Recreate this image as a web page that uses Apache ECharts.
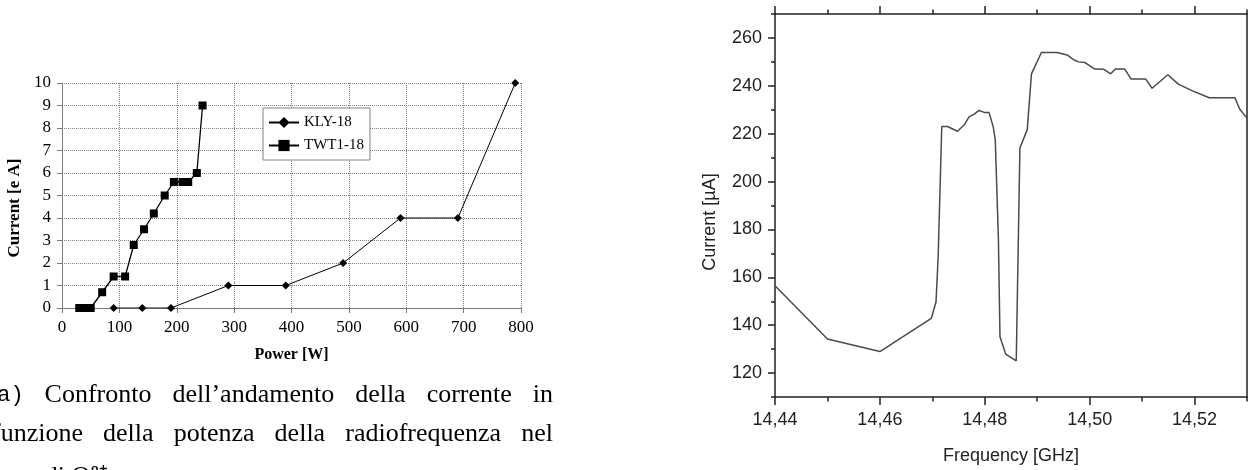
<!DOCTYPE html>
<html>
<head>
<meta charset="utf-8">
<title>Corrente in funzione della potenza e della frequenza</title>
<script src="https://cdn.jsdelivr.net/npm/echarts@6/dist/echarts.min.js"></script>
<style>
  html, body { margin: 0; padding: 0; background: #fff; }
  #chart { width: 1250px; height: 470px; }
</style>
</head>
<body>
<div id="chart"></div>
<script>
// left panel: current vs RF power
const klyPower = [90, 140, 190, 290, 390, 490, 590, 690, 790]
const klyCurrent = [0, 0, 0, 1, 1, 2, 4, 4, 10]
const twtPower = [30, 34, 38, 42, 46, 50, 70, 90, 110, 125, 143, 160, 179, 195, 210, 220, 235, 245]
const twtCurrent = [0, 0, 0, 0, 0, 0, 0.7, 1.4, 1.4, 2.8, 3.5, 4.2, 5.0, 5.6, 5.6, 5.6, 6.0, 9.0]

// right panel: current vs frequency
const freqGHz = [14.4400, 14.4500, 14.4600, 14.4698, 14.4707, 14.4711, 14.4718, 14.4729, 14.4748, 14.4761,
  14.4770, 14.4780, 14.4789, 14.4799, 14.4808, 14.4816, 14.4820, 14.4826, 14.4829, 14.4840,
  14.4860, 14.4867, 14.4881, 14.4889, 14.4908, 14.4938, 14.4957, 14.4970, 14.4979, 14.4991,
  14.5010, 14.5027, 14.5040, 14.5049, 14.5067, 14.5079, 14.5107, 14.5119, 14.5149, 14.5169,
  14.5195, 14.5228, 14.5277, 14.5286, 14.5300]
const currentUA = [156.5, 134.2, 129.0, 142.8, 149.7, 168, 223.0, 223.0, 221.0, 223.7,
  227.0, 228.2, 229.7, 228.9, 228.9, 223.0, 217.5, 176, 135.2, 127.9,
  125.1, 214, 221.7, 245, 253.9, 253.9, 252.9, 250.8, 250.0, 249.7,
  247.0, 246.9, 245.0, 247.0, 247.0, 242.8, 242.8, 239.0, 244.6, 240.7,
  238.0, 235.0, 235.0, 230.3, 226.5]

const freqMajorTicks = [14.44, 14.46, 14.48, 14.50, 14.52]
const freqMinorTicks = [14.45, 14.47, 14.49, 14.51, 14.53]
const currMajorTicks = [120, 140, 160, 180, 200, 220, 240, 260]
const currMinorTicks = [110, 130, 150, 170, 190, 210, 230, 250, 270]

const captionLine1 = ['(a)', 'Confronto', 'dell’andamento', 'della', 'corrente', 'in']
const captionLine2 = ['funzione', 'della', 'potenza', 'della', 'radiofrequenza', 'nel']
const captionLine3 = 'caso di O⁸⁺'

const serif = 'Liberation Serif'
const sans = 'Liberation Sans'
const frame = '#222'

// spread words over a line like LaTeX justified text
const measureCtx = document.createElement('canvas').getContext('2d')
function justify(words, x0, x1, y) {
  const fonts = words.map((w, i) => (i === 0 && w === '(a)') ? ['Liberation Mono', 22] : [serif, 26])
  const widths = words.map((w, i) => {
    measureCtx.font = fonts[i][1] + 'px "' + fonts[i][0] + '"'
    return measureCtx.measureText(w).width
  })
  const gap = (x1 - x0 - widths.reduce((a, b) => a + b, 0)) / (words.length - 1)
  let x = x0
  return words.map((w, i) => {
    const el = {
      type: 'text', x, y,
      style: { text: w, fontFamily: fonts[i][0], fontSize: fonts[i][1], fill: '#000', verticalAlign: 'middle' }
    }
    x += widths[i] + gap
    return el
  })
}

const chart = echarts.init(document.getElementById('chart'))

const leftAxisCommon = {
  gridIndex: 0,
  type: 'value',
  axisLine: { lineStyle: { color: '#7a7a7a', width: 1 } },
  axisTick: { length: 5, lineStyle: { color: '#7a7a7a' } },
  splitLine: { lineStyle: { color: '#7f7f7f', type: 'dotted', width: 1 } },
  axisLabel: { color: '#000', fontFamily: serif, fontSize: 17, margin: 11 }
}

const tickOnly = (extra) => Object.assign({
  gridIndex: 1,
  type: 'value',
  axisLine: { show: false },
  axisLabel: { show: false },
  splitLine: { show: false }
}, extra)

chart.setOption({
  animation: false,
  backgroundColor: '#fff',
  grid: [
    { left: 62, right: 729, top: 83, bottom: 162 },
    { left: 775, right: 3, top: 14, bottom: 72 }
  ],
  legend: {
    left: 263, top: 108, orient: 'vertical',
    padding: [7, 6, 7, 5],
    itemGap: 8, itemWidth: 30, itemHeight: 14,
    borderColor: '#808080', borderWidth: 1, backgroundColor: '#fff',
    textStyle: { fontFamily: serif, fontSize: 15, color: '#000' },
    data: ['KLY-18', 'TWT1-18']
  },
  xAxis: [
    Object.assign({}, leftAxisCommon, {
      min: 0, max: 800, interval: 100,
      name: 'Power [W]', nameLocation: 'middle', nameGap: 39,
      nameTextStyle: { fontFamily: serif, fontSize: 16, fontWeight: 'bold', color: '#000' }
    }),
    {
      gridIndex: 1, type: 'value', min: 14.44, max: 14.53, position: 'bottom',
      axisLine: { lineStyle: { color: frame, width: 1.5 } },
      axisTick: { customValues: freqMajorTicks, length: 8, lineStyle: { color: frame, width: 1.5 } },
      axisLabel: {
        customValues: freqMajorTicks, margin: 14, color: '#222', fontFamily: sans, fontSize: 18,
        formatter: (v) => v.toFixed(2).replace('.', ',')
      },
      splitLine: { show: false },
      name: 'Frequency [GHz]', nameLocation: 'middle', nameGap: 50,
      nameTextStyle: { fontFamily: sans, fontSize: 18, color: '#222' }
    },
    tickOnly({ min: 14.44, max: 14.53, position: 'bottom',
      axisTick: { customValues: freqMinorTicks, length: 4.5, lineStyle: { color: frame, width: 1.5 } } }),
    tickOnly({ min: 14.44, max: 14.53, position: 'top',
      axisLine: { show: true, lineStyle: { color: frame, width: 1.5 } },
      axisTick: { customValues: freqMajorTicks, length: 8, lineStyle: { color: frame, width: 1.5 } } }),
    tickOnly({ min: 14.44, max: 14.53, position: 'top',
      axisTick: { customValues: freqMinorTicks, length: 4.5, lineStyle: { color: frame, width: 1.5 } } })
  ],
  yAxis: [
    Object.assign({}, leftAxisCommon, {
      min: 0, max: 10, interval: 1
    }),
    {
      gridIndex: 1, type: 'value', min: 110, max: 270, position: 'left',
      axisLine: { lineStyle: { color: frame, width: 1.5 } },
      axisTick: { customValues: currMajorTicks, length: 7, lineStyle: { color: frame, width: 1.5 } },
      axisLabel: { customValues: currMajorTicks, margin: 13, color: '#222', fontFamily: sans, fontSize: 18 },
      splitLine: { show: false }
    },
    tickOnly({ min: 110, max: 270, position: 'left',
      axisTick: { customValues: currMinorTicks, length: 4, lineStyle: { color: frame, width: 1.5 } } }),
    tickOnly({ min: 110, max: 270, position: 'right',
      axisLine: { show: true, lineStyle: { color: frame, width: 1.5 } },
      axisTick: { show: false } })
  ],
  series: [
    {
      name: 'KLY-18', type: 'line', xAxisIndex: 0, yAxisIndex: 0,
      data: klyPower.map((p, i) => [p, klyCurrent[i]]),
      symbol: 'diamond', symbolSize: 8,
      itemStyle: { color: '#000' },
      lineStyle: { color: '#000', width: 1 }
    },
    {
      name: 'TWT1-18', type: 'line', xAxisIndex: 0, yAxisIndex: 0,
      data: twtPower.map((p, i) => [p, twtCurrent[i]]),
      symbol: 'rect', symbolSize: 8,
      itemStyle: { color: '#000' },
      lineStyle: { color: '#000', width: 1.3 }
    },
    {
      name: 'Current', type: 'line', xAxisIndex: 1, yAxisIndex: 1,
      data: freqGHz.map((f, i) => [f, currentUA[i]]),
      showSymbol: false,
      lineStyle: { color: '#4a4a4a', width: 1.5 }
    }
  ],
  graphic: [
    {
      type: 'text', x: 15, y: 208, rotation: Math.PI / 2,
      style: { text: 'Current [e A]', fontFamily: serif, fontSize: 17, fontWeight: 'bold', fill: '#000', align: 'center', verticalAlign: 'middle' }
    },
    {
      type: 'text', x: 710, y: 222, rotation: Math.PI / 2,
      style: { text: 'Current [µA]', fontFamily: sans, fontSize: 18, fill: '#222', align: 'center', verticalAlign: 'middle' }
    },
    ...justify(captionLine1, -16, 553, 395),
    ...justify(captionLine2, -8, 553, 434),
    {
      type: 'text', x: -8, y: 477,
      style: { text: captionLine3, fontFamily: serif, fontSize: 26, fill: '#000', verticalAlign: 'middle' }
    }
  ]
})
</script>
</body>
</html>
